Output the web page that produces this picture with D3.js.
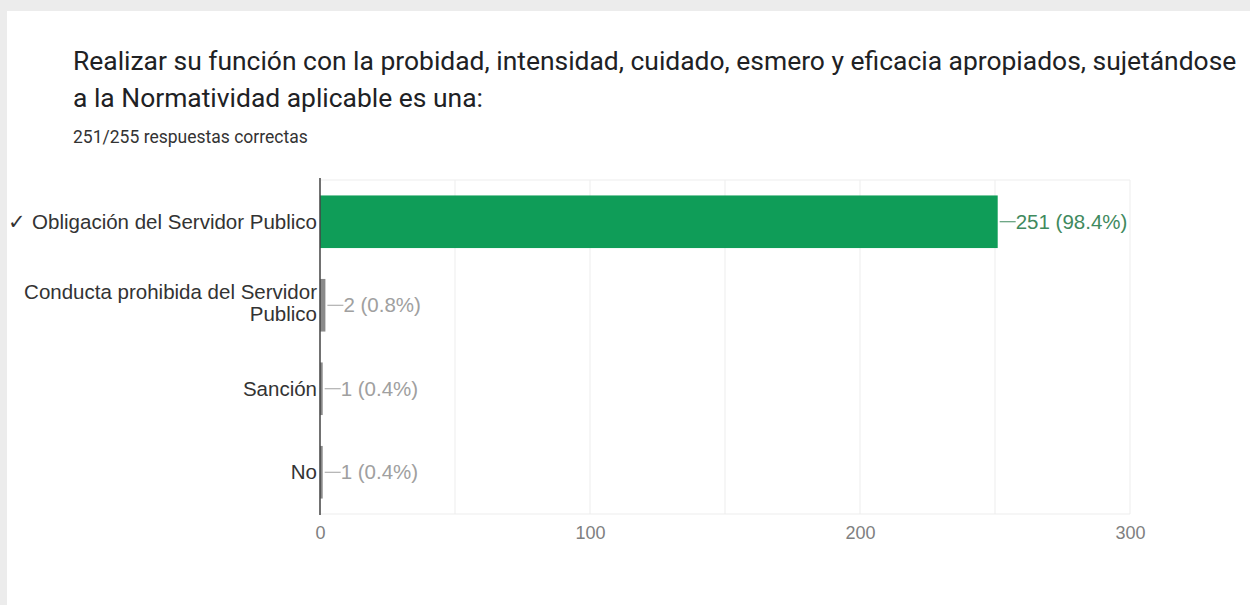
<!DOCTYPE html>
<html><head><meta charset="utf-8">
<script src="https://cdn.jsdelivr.net/npm/d3@7"></script>
<style>
html,body{margin:0;padding:0;background:#ececec;}
svg{display:block;}
</style></head>
<body>
<svg id="c" width="1250" height="605"></svg>
<script>
const titleLines = ["Realizar su función con la probidad, intensidad, cuidado, esmero y eficacia apropiados, sujetándose", "a la Normatividad aplicable es una:"];
const subtitle = "251/255 respuestas correctas";
const categories = ["✓ Obligación del Servidor Publico", "Conducta prohibida del Servidor Publico", "Sanción", "No"];
const categoryLines = [["✓ Obligación del Servidor Publico"], ["Conducta prohibida del Servidor", "Publico"], ["Sanción"], ["No"]];
const values = [251, 2, 1, 1];
const valueLabels = ["251 (98.4%)", "2 (0.8%)", "1 (0.4%)", "1 (0.4%)"];
const correct = [true, false, false, false];
const xTicks = [0, 100, 200, 300];
const gridTicks = [0, 50, 100, 150, 200, 250, 300];

(function () {
const svg = d3.select("#c");
const FONT = "'Liberation Sans', Arial, sans-serif";
// card
svg.append("rect").attr("x", 7).attr("y", 11).attr("width", 1243).attr("height", 594).attr("fill", "#fff");

// title
const tg = svg.append("g");
titleLines.forEach((t, i) => {
  tg.append("text").attr("x", 73).attr("y", 70 + i * 37)
    .attr("font-family", "Roboto, 'Liberation Sans', Arial, sans-serif")
    .attr("font-size", 21).attr("fill", "#202124").text(t);
});
const first = tg.select("text").node();
const w = first.getComputedTextLength();
tg.selectAll("text").attr("font-size", 21 * 1164 / w);

const st = svg.append("text").attr("x", 73).attr("y", 143)
  .attr("font-family", "Roboto, 'Liberation Sans', Arial, sans-serif")
  .attr("font-size", 14).attr("fill", "#333").text(subtitle);
st.attr("font-size", 14 * 235 / st.node().getComputedTextLength());

const pL = 320, pR = 1130, pT = 180, pB = 514;
const x = d3.scaleLinear().domain([0, 300]).range([pL, pR]);
const y = d3.scaleBand().domain(categories).range([pT, pB]).paddingInner(0.37).paddingOuter(0.185);

// plot frame and grid
svg.append("g").selectAll("line").data(gridTicks).join("line")
  .attr("x1", d => x(d)).attr("x2", d => x(d)).attr("y1", pT).attr("y2", pB)
  .attr("stroke", "#ededed").attr("stroke-width", 1);
svg.append("line").attr("x1", pL).attr("x2", pR).attr("y1", pT).attr("y2", pT).attr("stroke", "#ededed");
svg.append("line").attr("x1", pL).attr("x2", pR).attr("y1", pB).attr("y2", pB).attr("stroke", "#ededed");

// bars
svg.append("g").selectAll("rect").data(values).join("rect")
  .attr("x", x(0)).attr("y", (d, i) => y(categories[i]))
  .attr("width", d => x(d) - x(0)).attr("height", y.bandwidth())
  .attr("fill", (d, i) => correct[i] ? "#0f9d58" : "#8a8a8a");

// axis line
svg.append("line").attr("x1", pL).attr("x2", pL).attr("y1", pT - 2).attr("y2", pB + 1)
  .attr("stroke", "#444").attr("stroke-width", 1.5);

// value labels with leaders
const vg = svg.append("g");
values.forEach((v, i) => {
  const cy = y(categories[i]) + y.bandwidth() / 2;
  const x0 = x(v);
  const col = correct[i] ? "#3f8a5e" : "#a0a0a0";
  vg.append("line").attr("x1", x0 + 2).attr("x2", x0 + 18).attr("y1", cy).attr("y2", cy)
    .attr("stroke", col).attr("stroke-width", 1);
  vg.append("text").attr("x", x0 + 18).attr("y", cy).attr("dy", "0.35em")
    .attr("font-family", FONT).attr("font-size", 20.5)
    .attr("fill", col).text(valueLabels[i]);
});

// category labels
const cg = svg.append("g");
categoryLines.forEach((lines, i) => {
  const cy = y(categories[i]) + y.bandwidth() / 2 - (lines.length > 1 ? 2 : 0);
  const n = lines.length;
  lines.forEach((l, j) => {
    cg.append("text").attr("x", pL - 3).attr("y", cy + (j - (n - 1) / 2) * 22).attr("dy", "0.35em")
      .attr("text-anchor", "end")
      .attr("font-family", FONT).attr("font-size", 20.5)
      .attr("fill", "#333").text(l);
  });
});

// x tick labels
const xAxis = d3.axisBottom(x).tickValues(xTicks).tickSize(0).tickPadding(12);
const ax = svg.append("g").attr("transform", `translate(0,${pB})`).call(xAxis);
ax.select(".domain").remove();
ax.selectAll("text").attr("font-family", FONT).attr("font-size", 18).attr("fill", "#808080");
})();
</script>
</body></html>
